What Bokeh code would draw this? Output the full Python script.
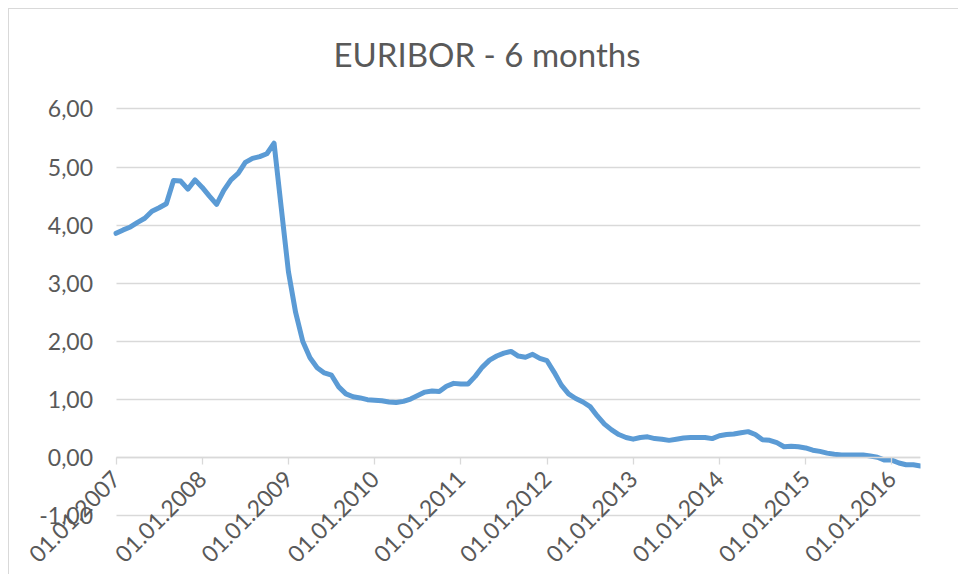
from bokeh.plotting import figure
from bokeh.models import FixedTicker, Title
from bokeh.embed import file_html
from bokeh.resources import INLINE

# monthly EURIBOR 6M values, Jan 2007 .. May 2016 (month index 0..112)
months = list(range(113))
values = [
    3.86, 3.92, 3.97, 4.05, 4.12, 4.24, 4.30, 4.37, 4.77, 4.76, 4.62, 4.78,   # 2007
    4.65, 4.50, 4.36, 4.60, 4.78, 4.89, 5.08, 5.15, 5.18, 5.23, 5.41, 4.30,   # 2008
    3.20, 2.50, 2.00, 1.72, 1.55, 1.46, 1.42, 1.22, 1.10, 1.05, 1.03, 1.00,   # 2009
    0.99, 0.98, 0.96, 0.95, 0.97, 1.01, 1.07, 1.13, 1.15, 1.14, 1.23, 1.28,   # 2010
    1.27, 1.27, 1.40, 1.56, 1.68, 1.75, 1.80, 1.83, 1.75, 1.73, 1.78, 1.71,   # 2011
    1.67, 1.47, 1.25, 1.10, 1.02, 0.96, 0.88, 0.72, 0.58, 0.48, 0.40, 0.35,   # 2012
    0.32, 0.35, 0.36, 0.33, 0.32, 0.30, 0.32, 0.34, 0.35, 0.35, 0.35, 0.33,   # 2013
    0.38, 0.40, 0.41, 0.43, 0.45, 0.40, 0.31, 0.30, 0.26, 0.19, 0.20, 0.19,   # 2014
    0.17, 0.13, 0.11, 0.08, 0.06, 0.05, 0.05, 0.05, 0.05, 0.03, 0.01, -0.04,  # 2015
    -0.04, -0.09, -0.12, -0.12, -0.14,                                        # 2016
]

x_tick_positions = [0, 12, 24, 36, 48, 60, 72, 84, 96, 108]
x_tick_labels = ["01.01.2007", "01.01.2008", "01.01.2009", "01.01.2010", "01.01.2011",
                 "01.01.2012", "01.01.2013", "01.01.2014", "01.01.2015", "01.01.2016"]
y_tick_values = [-1, 0, 1, 2, 3, 4, 5, 6]
y_tick_labels = ["-1,00", "0,00", "1,00", "2,00", "3,00", "4,00", "5,00", "6,00"]

FONT = "Lato"
TXT = "#595959"
GRID = "#D9D9D9"

# The frame is made larger than the plotted area (left, above and below) so that
# the axes, drawn at month 0 and at value 0, keep all their labels visible.
p = figure(width=950, height=566, output_backend="svg", toolbar_location=None,
           x_range=(months[0] - 14, months[-1]), y_range=(-1.99, 6.3),
           min_border_left=6, min_border_right=39, min_border_top=82, min_border_bottom=2,
           background_fill_color="white", border_fill_color="white")
p.styles = {"margin-left": "8px", "margin-top": "8px",
            "border-top": "1px solid #d9d9d9", "border-left": "1px solid #d9d9d9"}
p.outline_line_color = None

title = Title(text="EURIBOR - 6 months", align="left", offset=318,
              text_font=FONT, text_font_size="33px", text_font_style="normal",
              text_color=TXT, standoff=36)
p.add_layout(title, "above")

p.xgrid.grid_line_color = None
p.ygrid.ticker = FixedTicker(ticks=y_tick_values)
p.ygrid.grid_line_color = GRID
p.ygrid.grid_line_width = 1.3
p.ygrid.cross_bounds = (months[0], months[-1])

p.line(months, values, line_color="#5B9BD5", line_width=5, line_join="round", line_cap="round")

# y axis, placed at the first month
ya = p.yaxis[0]
ya.fixed_location = months[0]
ya.ticker = FixedTicker(ticks=y_tick_values)
ya.major_label_overrides = {v: s for v, s in zip(y_tick_values, y_tick_labels)}
ya.axis_line_color = None
ya.major_tick_line_color = None
ya.minor_tick_line_color = None
ya.major_tick_out = 0
ya.major_tick_in = 0
ya.major_label_standoff = 23
ya.major_label_text_font = FONT
ya.major_label_text_font_size = "23px"
ya.major_label_text_color = TXT

# x axis at value 0
xa = p.xaxis[0]
xa.fixed_location = 0
xa.bounds = (months[0], months[-1])
xa.ticker = FixedTicker(ticks=x_tick_positions)
xa.major_label_overrides = {v: s for v, s in zip(x_tick_positions, x_tick_labels)}
xa.major_label_orientation = 0.785398
xa.axis_line_color = GRID
xa.axis_line_width = 1.3
xa.major_tick_line_color = GRID
xa.major_tick_line_width = 1.3
xa.major_tick_in = 0
xa.major_tick_out = 7
xa.minor_tick_line_color = None
xa.major_label_standoff = 10
xa.major_label_text_font = FONT
xa.major_label_text_font_size = "23px"
xa.major_label_text_color = TXT

open("out.html", "w").write(file_html(p, INLINE))
